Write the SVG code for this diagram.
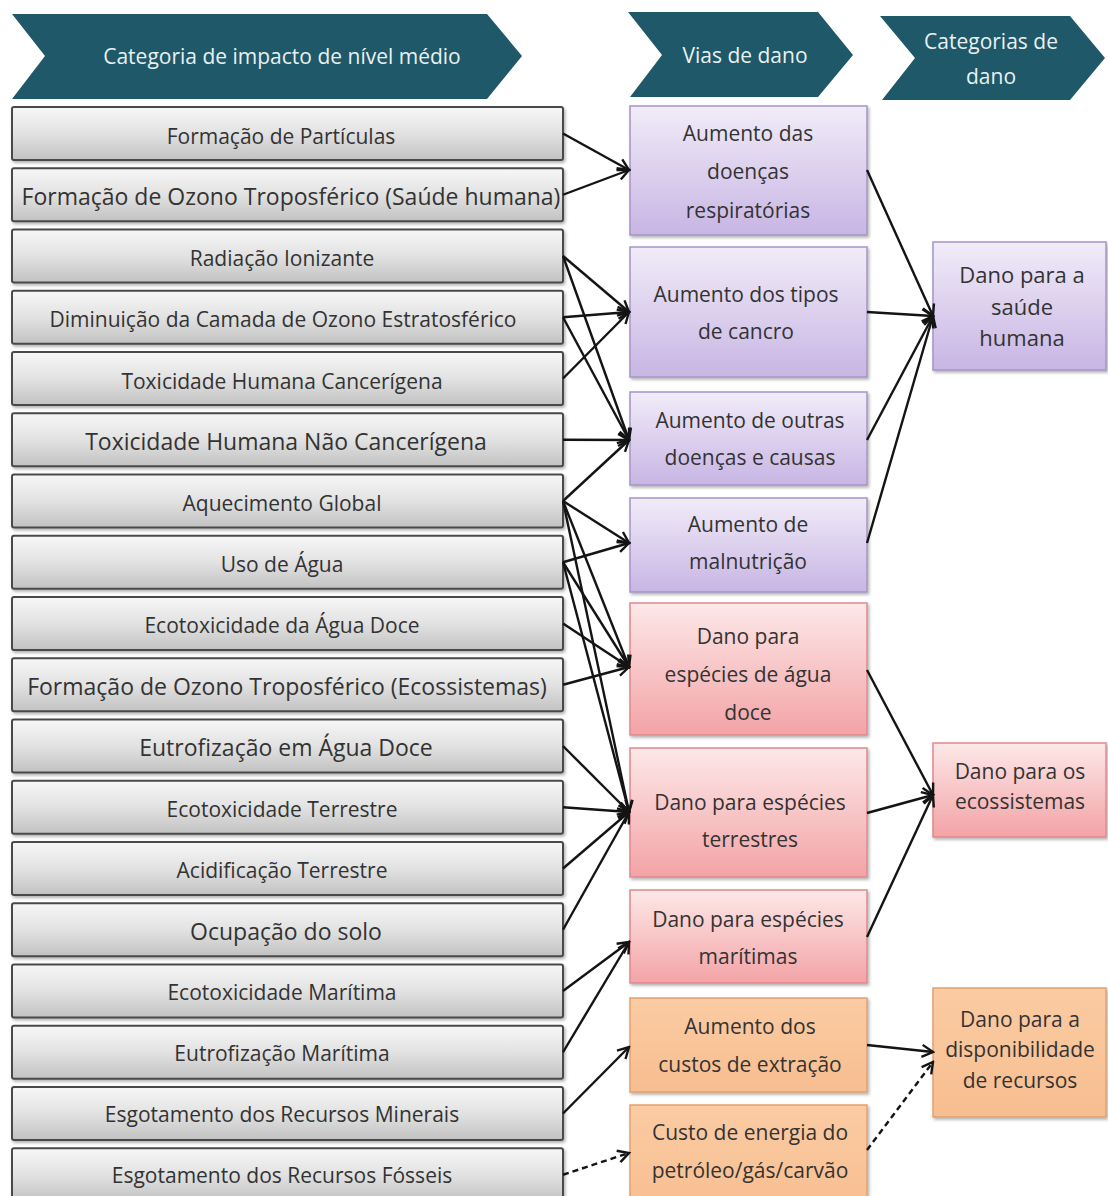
<svg xmlns="http://www.w3.org/2000/svg" width="1108" height="1196" viewBox="0 0 1108 1196">
  <style>
    .hdr { fill: #1f5868; }
    .hdr-t { font-family: "Open Sans", "Liberation Sans", sans-serif; font-size: 21px; fill: #e8f1f2; text-anchor: middle; }
    .t { font-family: "Open Sans", "Liberation Sans", sans-serif; font-size: 21px; fill: #333333; text-anchor: middle; }
    .big { font-size: 23px; }
    .mid { font-size: 22px; }
    .cat { fill: url(#gGray); stroke: #4a4a4a; stroke-width: 2; filter: url(#sh); }
    .pur { fill: url(#gPur); stroke: #a594c6; stroke-width: 1.5; filter: url(#sh); }
    .red { fill: url(#gRed); stroke: #e0898d; stroke-width: 1.5; filter: url(#sh); }
    .org { fill: url(#gOrg); stroke: #e2a16f; stroke-width: 1.5; filter: url(#sh); }
    .ln { stroke: #141414; stroke-width: 2.4; fill: none; marker-end: url(#arr); }
    .dash { stroke-dasharray: 6 4; }
  </style>
  <defs>
    <linearGradient id="gGray" x1="0" y1="0" x2="0" y2="1">
      <stop offset="0" stop-color="#f7f7f7"/>
      <stop offset="0.5" stop-color="#e2e2e2"/>
      <stop offset="1" stop-color="#c2c2c2"/>
    </linearGradient>
    <linearGradient id="gPur" x1="0" y1="0" x2="0" y2="1">
      <stop offset="0" stop-color="#f1ecf8"/>
      <stop offset="1" stop-color="#c8b5e4"/>
    </linearGradient>
    <linearGradient id="gRed" x1="0" y1="0" x2="0" y2="1">
      <stop offset="0" stop-color="#fde8e8"/>
      <stop offset="1" stop-color="#f3a3a6"/>
    </linearGradient>
    <linearGradient id="gOrg" x1="0" y1="0" x2="0" y2="1">
      <stop offset="0" stop-color="#fbcba3"/>
      <stop offset="1" stop-color="#f7be90"/>
    </linearGradient>
    <filter id="sh" x="-5%" y="-10%" width="115%" height="130%">
      <feDropShadow dx="1.5" dy="2" stdDeviation="1.5" flood-color="#000" flood-opacity="0.3"/>
    </filter>
    <marker id="arr" markerUnits="userSpaceOnUse" viewBox="-14 -8 16 16" markerWidth="16" markerHeight="16" refX="0" refY="0" orient="auto">
      <path d="M-11,-6 L0,0 L-11,6" fill="none" stroke="#141414" stroke-width="2.4" stroke-linejoin="miter"/>
    </marker>
  </defs>

  <rect width="1108" height="1196" fill="#ffffff"/>

  <!-- column headers -->
  <g id="hdr-impact">
    <polygon class="hdr" points="12,14 487,14 522,56 487,99 12,99 45,56"/>
    <text class="hdr-t" x="282" y="64">Categoria de impacto de nível médio</text>
  </g>
  <g id="hdr-pathways">
    <polygon class="hdr" points="628,12 818,12 853,55 818,97 630,97 662,55"/>
    <text class="hdr-t" x="745" y="63">Vias de dano</text>
  </g>
  <g id="hdr-damage">
    <polygon class="hdr" points="880,16 1070,16 1105,58 1070,100 882,100 915,58"/>
    <text class="hdr-t" x="991" y="49">Categorias de</text>
    <text class="hdr-t" x="991" y="84">dano</text>
  </g>

  <!-- midpoint impact categories -->
  <g id="cat-particulas"><rect class="cat" x="12" y="107" width="551" height="53" rx="2"/><text class="t" x="281" y="144">Formação de Partículas</text></g>
  <g id="cat-ozono-saude"><rect class="cat" x="12" y="168.25" width="551" height="53" rx="2"/><text class="t big" x="291" y="205">Formação de Ozono Troposférico (Saúde humana)</text></g>
  <g id="cat-radiacao"><rect class="cat" x="12" y="229.5" width="551" height="53" rx="2"/><text class="t" x="282" y="266">Radiação Ionizante</text></g>
  <g id="cat-ozono-estrat"><rect class="cat" x="12" y="290.75" width="551" height="53" rx="2"/><text class="t" x="283" y="327">Diminuição da Camada de Ozono Estratosférico</text></g>
  <g id="cat-tox-canc"><rect class="cat" x="12" y="352" width="551" height="53" rx="2"/><text class="t" x="282" y="389">Toxicidade Humana Cancerígena</text></g>
  <g id="cat-tox-naocanc"><rect class="cat" x="12" y="413.25" width="551" height="53" rx="2"/><text class="t big" x="286" y="450">Toxicidade Humana Não Cancerígena</text></g>
  <g id="cat-aquecimento"><rect class="cat" x="12" y="474.5" width="551" height="53" rx="2"/><text class="t" x="282" y="511">Aquecimento Global</text></g>
  <g id="cat-agua"><rect class="cat" x="12" y="535.75" width="551" height="53" rx="2"/><text class="t" x="282" y="572">Uso de Água</text></g>
  <g id="cat-ecotox-doce"><rect class="cat" x="12" y="597" width="551" height="53" rx="2"/><text class="t" x="282" y="633">Ecotoxicidade da Água Doce</text></g>
  <g id="cat-ozono-eco"><rect class="cat" x="12" y="658.25" width="551" height="53" rx="2"/><text class="t big" x="287" y="695">Formação de Ozono Troposférico (Ecossistemas)</text></g>
  <g id="cat-eutro-doce"><rect class="cat" x="12" y="719.5" width="551" height="53" rx="2"/><text class="t big" x="286" y="756">Eutrofização em Água Doce</text></g>
  <g id="cat-ecotox-terr"><rect class="cat" x="12" y="780.75" width="551" height="53" rx="2"/><text class="t" x="282" y="817">Ecotoxicidade Terrestre</text></g>
  <g id="cat-acid"><rect class="cat" x="12" y="842" width="551" height="53" rx="2"/><text class="t" x="282" y="878">Acidificação Terrestre</text></g>
  <g id="cat-solo"><rect class="cat" x="12" y="903.25" width="551" height="53" rx="2"/><text class="t big" x="286" y="940">Ocupação do solo</text></g>
  <g id="cat-ecotox-mar"><rect class="cat" x="12" y="964.5" width="551" height="53" rx="2"/><text class="t" x="282" y="1000">Ecotoxicidade Marítima</text></g>
  <g id="cat-eutro-mar"><rect class="cat" x="12" y="1025.75" width="551" height="53" rx="2"/><text class="t" x="282" y="1061">Eutrofização Marítima</text></g>
  <g id="cat-minerais"><rect class="cat" x="12" y="1087" width="551" height="53" rx="2"/><text class="t" x="282" y="1122">Esgotamento dos Recursos Minerais</text></g>
  <g id="cat-fosseis"><rect class="cat" x="12" y="1148.25" width="551" height="53" rx="2"/><text class="t" x="282" y="1183">Esgotamento dos Recursos Fósseis</text></g>

  <!-- damage pathways -->
  <g id="via-respiratorias"><rect class="pur" x="630" y="106" width="237" height="129"/>
    <text class="t" x="748" y="141">Aumento das</text><text class="t" x="748" y="179">doenças</text><text class="t" x="748" y="218">respiratórias</text></g>
  <g id="via-cancro"><rect class="pur" x="630" y="247" width="237" height="130"/>
    <text class="t" x="746" y="302">Aumento dos tipos</text><text class="t" x="746" y="339">de cancro</text></g>
  <g id="via-outras"><rect class="pur" x="630" y="392" width="237" height="93"/>
    <text class="t" x="750" y="428">Aumento de outras</text><text class="t" x="750" y="465">doenças e causas</text></g>
  <g id="via-malnutricao"><rect class="pur" x="630" y="498" width="237" height="94"/>
    <text class="t" x="748" y="532">Aumento de</text><text class="t" x="748" y="569">malnutrição</text></g>
  <g id="via-agua-doce"><rect class="red" x="630" y="603" width="237" height="132"/>
    <text class="t" x="748" y="644">Dano para</text><text class="t" x="748" y="682">espécies de água</text><text class="t" x="748" y="720">doce</text></g>
  <g id="via-terrestres"><rect class="red" x="630" y="748" width="237" height="129"/>
    <text class="t" x="750" y="810">Dano para espécies</text><text class="t" x="750" y="847">terrestres</text></g>
  <g id="via-maritimas"><rect class="red" x="630" y="890" width="237" height="93"/>
    <text class="t" x="748" y="927">Dano para espécies</text><text class="t" x="748" y="964">marítimas</text></g>
  <g id="via-extracao"><rect class="org" x="630" y="998" width="237" height="94"/>
    <text class="t" x="750" y="1034">Aumento dos</text><text class="t" x="750" y="1072">custos de extração</text></g>
  <g id="via-energia"><rect class="org" x="630" y="1105" width="237" height="110"/>
    <text class="t" x="750" y="1140">Custo de energia do</text><text class="t" x="750" y="1178">petróleo/gás/carvão</text></g>

  <!-- damage categories -->
  <g id="dano-saude"><rect class="pur" x="933" y="242" width="173" height="128"/>
    <text class="t mid" x="1022" y="283">Dano para a</text><text class="t mid" x="1022" y="315">saúde</text><text class="t mid" x="1022" y="346">humana</text></g>
  <g id="dano-ecossistemas"><rect class="red" x="933" y="743" width="173" height="94"/>
    <text class="t" x="1020" y="779">Dano para os</text><text class="t" x="1020" y="809">ecossistemas</text></g>
  <g id="dano-recursos"><rect class="org" x="933" y="988" width="173" height="129"/>
    <text class="t" x="1020" y="1027">Dano para a</text><text class="t" x="1020" y="1057">disponibilidade</text><text class="t" x="1020" y="1088">de recursos</text></g>

  <!-- connectors -->
  <g id="connectors">
    <line class="ln" x1="563" y1="133.5" x2="629" y2="170"/>
    <line class="ln" x1="563" y1="194.75" x2="629" y2="170"/>
    <line class="ln" x1="563" y1="256" x2="629" y2="312"/>
    <line class="ln" x1="563" y1="256" x2="629" y2="440"/>
    <line class="ln" x1="563" y1="317.25" x2="629" y2="312"/>
    <line class="ln" x1="563" y1="317.25" x2="629" y2="440"/>
    <line class="ln" x1="563" y1="378.5" x2="629" y2="312"/>
    <line class="ln" x1="563" y1="439.75" x2="629" y2="440"/>
    <line class="ln" x1="563" y1="501" x2="629" y2="440"/>
    <line class="ln" x1="563" y1="501" x2="629" y2="543"/>
    <line class="ln" x1="563" y1="501" x2="629" y2="667"/>
    <line class="ln" x1="563" y1="501" x2="629" y2="812"/>
    <line class="ln" x1="563" y1="562.25" x2="629" y2="543"/>
    <line class="ln" x1="563" y1="562.25" x2="629" y2="667"/>
    <line class="ln" x1="563" y1="562.25" x2="629" y2="812"/>
    <line class="ln" x1="563" y1="623.5" x2="629" y2="667"/>
    <line class="ln" x1="563" y1="684.75" x2="629" y2="667"/>
    <line class="ln" x1="563" y1="746" x2="629" y2="812"/>
    <line class="ln" x1="563" y1="807.25" x2="629" y2="812"/>
    <line class="ln" x1="563" y1="868.5" x2="629" y2="812"/>
    <line class="ln" x1="563" y1="929.75" x2="629" y2="812"/>
    <line class="ln" x1="563" y1="991" x2="629" y2="942"/>
    <line class="ln" x1="563" y1="1052.25" x2="629" y2="942"/>
    <line class="ln" x1="563" y1="1113.5" x2="629" y2="1047"/>
    <line class="ln dash" x1="563" y1="1174.75" x2="629" y2="1153"/>

    <line class="ln" x1="867" y1="170" x2="933" y2="316"/>
    <line class="ln" x1="867" y1="312" x2="933" y2="316"/>
    <line class="ln" x1="867" y1="440" x2="933" y2="316"/>
    <line class="ln" x1="867" y1="543" x2="933" y2="316"/>
    <line class="ln" x1="867" y1="670" x2="933" y2="795"/>
    <line class="ln" x1="867" y1="813" x2="933" y2="795"/>
    <line class="ln" x1="867" y1="937" x2="933" y2="795"/>
    <line class="ln" x1="867" y1="1045" x2="933" y2="1052"/>
    <line class="ln dash" x1="867" y1="1150" x2="933" y2="1062"/>
  </g>
</svg>
